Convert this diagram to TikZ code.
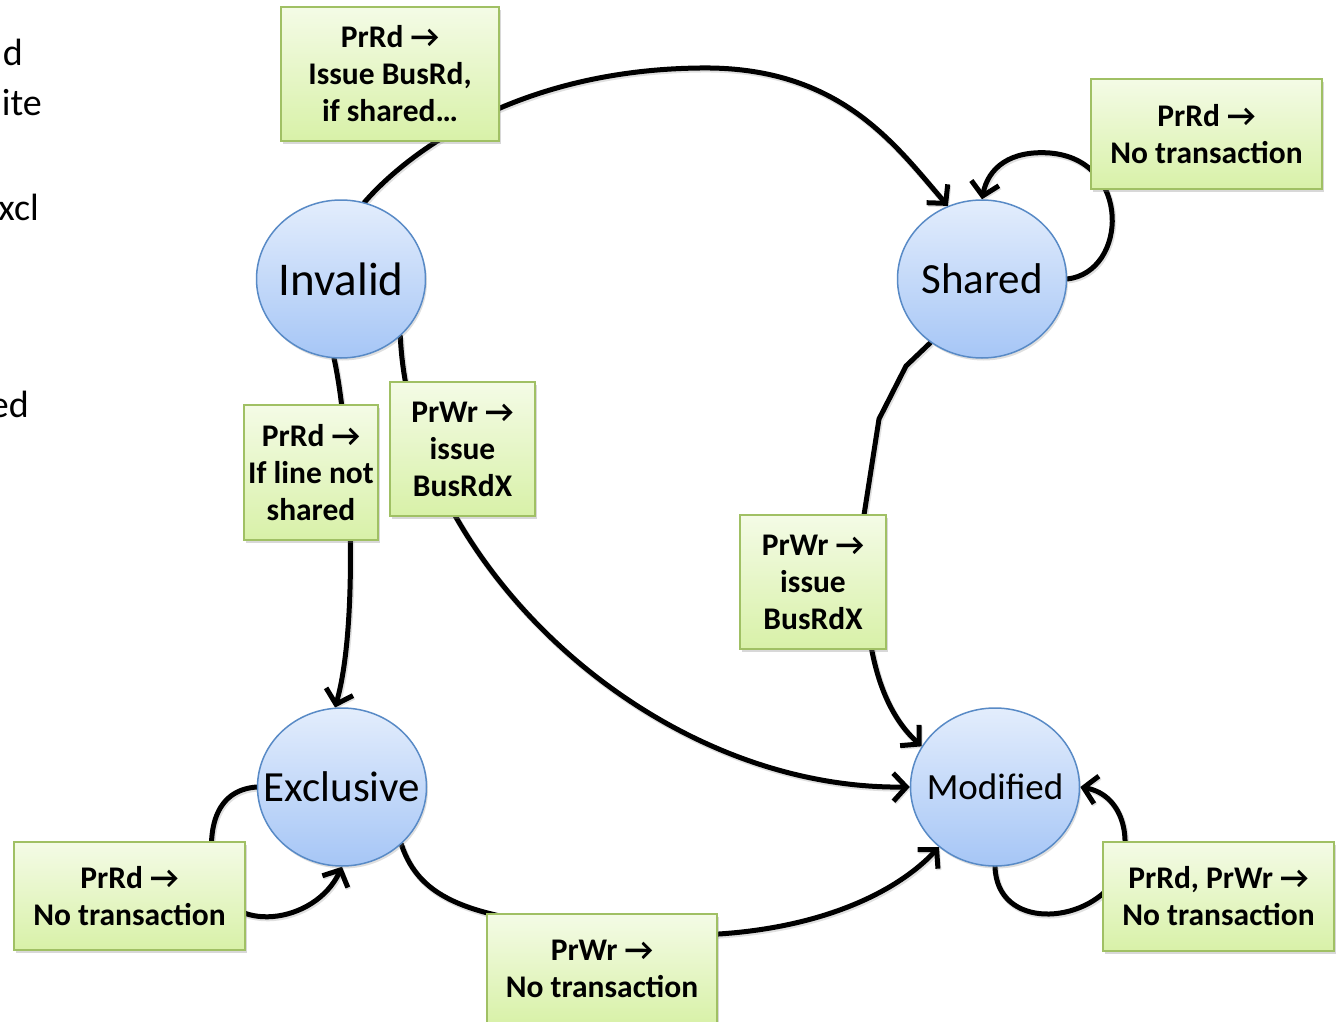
\documentclass[tikz,border=0pt]{standalone}
\usepackage{fontspec}
\setmainfont{Carlito}
\usetikzlibrary{shapes.geometric,arrows.meta,shadows}

\definecolor{stTop}{RGB}{227,237,252}
\definecolor{stBot}{RGB}{166,198,246}
\definecolor{stLine}{RGB}{88,138,198}
\definecolor{boxTop}{RGB}{244,251,230}
\definecolor{boxBot}{RGB}{216,241,168}
\definecolor{boxLine}{RGB}{160,192,100}

\pgfdeclarelayer{bg}
\pgfdeclarelayer{edges}
\pgfsetlayers{bg,edges,main}

\begin{document}
\begin{tikzpicture}[x=1pt,y=-1pt,
  statetext/.style={font=\fontsize{43}{48}\selectfont, inner sep=0},
  state/.style={ellipse, draw=stLine, line width=1.5, inner sep=0,
    minimum width=169, minimum height=158,
    top color=stTop, bottom color=stBot,
    drop shadow={shadow xshift=1.5pt, shadow yshift=-2.5pt, opacity=0.25},
    label={[statetext]center:#1}},
  lbl/.style={rectangle, draw=boxLine, line width=1.5, inner sep=0,
    top color=boxTop, bottom color=boxBot, align=center,
    font=\bfseries\fontsize{31.5}{37}\selectfont,
    drop shadow={shadow xshift=2pt, shadow yshift=-3pt, opacity=0.3}},
  frag/.style={anchor=base east, inner sep=0, font=\fontsize{38}{42}\selectfont},
  arr/.style={line width=5, line cap=round, line join=round,
    -{Straight Barb[length=13,width=28,line width=5]},
    preaction={draw=black, opacity=0.12, line width=6,
      transform canvas={xshift=1pt, yshift=-1.5pt}}}
]
\useasboundingbox (0,0) rectangle (1336,1022);
\begin{pgfonlayer}{bg}
  \fill[white] (0,0) rectangle (1336,1022);
\end{pgfonlayer}

% clipped words at the left margin
\node[frag] (f1) at (23,66)  {d};
\node[frag] (f2) at (42,116) {ite};
\node[frag] (f3) at (39,220) {xcl};
\node[frag] (f4) at (29,417) {ed};

% states
\node[state={\fontsize{47}{52}\selectfont Invalid}] (inv) at (341,279) {};
\node[state={Shared}]    (sh)  at (982,279) {};
\node[state={Exclusive}] (exc) at (342,787) {};
\node[state={\fontsize{37}{42}\selectfont Modified}]  (mod) at (995,787) {};

% transition labels
\node[lbl, minimum width=218, minimum height=134] (lIS) at (390,74)
  {PrRd →\\Issue BusRd,\\if shared…};
\node[lbl, minimum width=231, minimum height=110] (lSS) at (1206.5,134)
  {PrRd →\\No transaction};
\node[lbl, minimum width=134, minimum height=135] (lIE) at (311,472.5)
  {PrRd →\\If line not\\shared};
\node[lbl, minimum width=145, minimum height=134] (lIM) at (462.5,449)
  {PrWr →\\issue\\BusRdX};
\node[lbl, minimum width=146, minimum height=134] (lSM) at (813,582)
  {PrWr →\\issue\\BusRdX};
\node[lbl, minimum width=231, minimum height=108] (lEE) at (129.5,896)
  {PrRd →\\No transaction};
\node[lbl, minimum width=230, minimum height=110] (lEM) at (602,969)
  {PrWr →\\No transaction};
\node[lbl, minimum width=231, minimum height=109] (lMM) at (1218.5,896.5)
  {PrRd, PrWr →\\No transaction};

% transitions
\begin{pgfonlayer}{edges}
  \draw[arr] (inv.73) .. controls (410,150) and (520,70) .. (700,68)
                      .. controls (840,66) and (895,145) .. (sh.115);
  \draw[arr] (sh.east) .. controls (1128,272) and (1132,160) .. (1050,153)
                       .. controls (1010,150) and (988,168) .. (sh.north);
  \draw[arr] (inv.265) .. controls (350,430) and (360,620) .. (exc.95);
  \draw[arr] (inv.-44) .. controls (410,560) and (650,790) .. (mod.west);
  \draw[arr] (sh.-129) -- (906,366) -- (879,419) -- (864,515) -- (870,640)
                       .. controls (878,690) and (895,722) .. (mod.151);
  \draw[arr] (exc.west) .. controls (215,790) and (205,830) .. (215,880)
                        .. controls (228,935) and (315,925) .. (exc.south);
  \draw[arr] (exc.-44) .. controls (420,900) and (470,918) .. (600,930)
                       .. controls (760,950) and (880,910) .. (mod.-133);
  \draw[arr] (mod.south) .. controls (997,930) and (1085,925) .. (1115,880)
                         .. controls (1135,845) and (1125,795) .. (mod.east);
\end{pgfonlayer}
\end{tikzpicture}
\end{document}
